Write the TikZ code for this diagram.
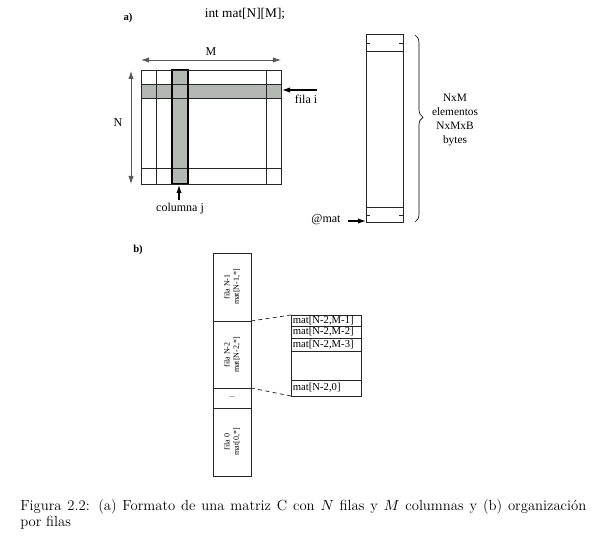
\documentclass[tikz,border=0pt]{standalone}
\usepackage{fontspec}
\newfontfamily\tmsfont{Liberation Serif}
\usetikzlibrary{arrows.meta,decorations.pathreplacing,positioning}
\definecolor{bandgray}{RGB}{180,184,180}
\tikzset{
  layoutfig/.style={x=0.75pt,y=-0.75pt,>={Latex[length=6pt,width=4pt]},
    every node/.style={font=\tmsfont\fontsize{9}{10.5}\selectfont,inner sep=1pt,align=center}},
  tag/.style={font=\tmsfont\bfseries\fontsize{8}{9.6}\selectfont},
  ptr/.style={->,line width=0.8pt},
  dimarrow/.style={<->,draw=black!65,line width=0.6pt},
  gridline/.style={draw=black!85,line width=0.55pt},
  cellnote/.style={font=\tmsfont\fontsize{8}{9}\selectfont,anchor=west,inner sep=0.5pt},
  rownote/.style={font=\tmsfont\fontsize{6}{7}\selectfont,rotate=90},
}

\begin{document}
\begin{tikzpicture}[layoutfig]
    \useasboundingbox (0,0) rectangle (608,538);
    % a) the matrix
    \node[tag] (taga) at (128,18) {a)};
    \node[font=\tmsfont\fontsize{10}{12}\selectfont] (decl) at (245,14) {int mat[N][M];};
    \fill[bandgray] (141,84) rectangle (281,98);
    \fill[bandgray] (172,70) rectangle (188,184);
    \foreach \x in {156,172,188,266}
      \draw[gridline] (\x,70) -- (\x,184);
    \foreach \y in {84,98,168}
      \draw[gridline] (141,\y) -- (281,\y);
    \draw[line width=0.9pt] (172,70) rectangle (188,184);
    \node[draw,gridline,minimum width=105pt,minimum height=85.5pt,inner sep=0pt,
      anchor=north west] (mat) at (141,70) {};

    \coordinate (Mleft) at (141,60);
    \coordinate (Mright) at (281,60);
    \draw[dimarrow] (Mleft) -- node[above=2pt] (Mlbl) {M} (Mright);
    \coordinate (Ntop) at (131,71);
    \coordinate (Nbot) at (131,184);
    \draw[dimarrow] (Ntop) -- (Nbot);
    \node (Nlbl) at (118,123) {N};

    \node (filai) at (306,99) {fila i};
    \coordinate (rowtail) at (317,90);
    \coordinate (rowhead) at (282,90);
    \draw[ptr] (rowtail) -- (rowhead);
    \node (colj) at (180,209) {columna j};
    \coordinate (coltail) at (179,200);
    \coordinate (colhead) at (179,185);
    \draw[ptr] (coltail) -- (colhead);

    % memory layout
    \node[draw,gridline,minimum width=27.75pt,minimum height=141pt,inner sep=0pt]
      (memcol) at (384.5,128.5) {};
    \draw[gridline] (366,51) -- (403,51);
    \draw[gridline] (366,207) -- (403,207);
    \foreach \y in {43,215} {
      \draw[gridline] (366,\y) -- (370,\y);
      \draw[gridline] (399,\y) -- (403,\y);
    }
    \node (atmat) at (326,220) {@mat};
    \coordinate (memtail) at (348,221);
    \coordinate (memhead) at (366,221);
    \draw[ptr] (memtail) -- (memhead);
    \draw[decorate,decoration={brace,amplitude=6pt,aspect=0.44},line width=0.5pt]
      (415,35) -- (415,222);
    \node[font=\tmsfont\fontsize{8.5}{10.5}\selectfont] (sizeinfo) at (455,120)
      {NxM\\elementos\\NxMxB\\bytes};

    % b) row by row
    \node[tag] (tagb) at (138,250) {b)};
    \draw[gridline] (213,253) rectangle (251,476);
    \foreach \y in {321,388,408}
      \draw[gridline] (213,\y) -- (251,\y);
    \node[rownote] (filaNa) at (232,287) {fila N-1\\mat[N-1,*]};
    \node[rownote] (filaNb) at (232,355) {fila N-2\\mat[N-2,*]};
    \node[font=\tmsfont\fontsize{6}{7}\selectfont] (dots) at (232,397) {...};
    \node[rownote] (filacero) at (232,442) {fila 0\\mat[0,*]};

    \draw[gridline] (291,315) rectangle (361,396);
    \foreach \y in {326,338,351,380}
      \draw[gridline] (291,\y) -- (361,\y);
    \node[cellnote] (cellA) at (292,320.5) {mat[N-2,M-1]};
    \node[cellnote] (cellB) at (292,332) {mat[N-2,M-2]};
    \node[cellnote] (cellC) at (292,344.5) {mat[N-2,M-3]};
    \node[cellnote] (cellD) at (292,388) {mat[N-2,0]};

    \coordinate (rowtop) at (251,321);
    \coordinate (rowbot) at (251,388);
    \coordinate (boxtop) at (291,315);
    \coordinate (boxbot) at (291,396);
    \draw[gridline,dash pattern=on 3pt off 2.5pt] (rowtop) -- (boxtop);
    \draw[gridline,dash pattern=on 3pt off 2.5pt] (rowbot) -- (boxbot);

    % caption
    \node[font=\fontsize{11}{12.2}\selectfont,text width=424.5pt,align=justify,
      inner sep=0pt,anchor=north west] (caption) at (20,499)
      {Figura 2.2: (a) Formato de una matriz C con $N$ filas y $M$ columnas y (b) organización\linebreak por filas};
  \end{tikzpicture}
\end{document}
